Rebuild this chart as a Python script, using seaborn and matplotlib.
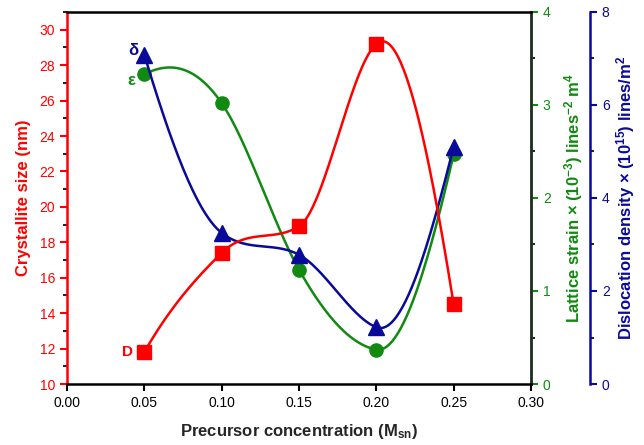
import numpy as np
import pandas as pd
import matplotlib
matplotlib.use("Agg")
import matplotlib.pyplot as plt
import seaborn as sns
from matplotlib.ticker import MultipleLocator

# ---- data ----
conc = [0.05, 0.10, 0.15, 0.20, 0.25]
crystallite = [11.8, 17.4, 18.9, 29.2, 14.5]
strain = [3.33, 3.02, 1.23, 0.37, 2.47]
dislocation = [7.08, 3.25, 2.78, 1.22, 5.1]

RED = "#ff0000"
GREEN = "#118a11"
BLUE = "#0a0a9a"

sns.set_style("ticks")
plt.rcParams["font.family"] = ["Liberation Sans", "DejaVu Sans"]
plt.rcParams["mathtext.default"] = "regular"


def akima(x, y, n=200):
    x = np.asarray(x, float)
    y = np.asarray(y, float)
    k = len(x)
    h = np.diff(x)
    m = np.diff(y) / h
    mm = np.empty(k + 3)
    mm[2:k + 1] = m
    mm[1] = 2 * mm[2] - mm[3]
    mm[0] = 2 * mm[1] - mm[2]
    mm[k + 1] = 2 * mm[k] - mm[k - 1]
    mm[k + 2] = 2 * mm[k + 1] - mm[k]
    t = np.empty(k)
    for i in range(k):
        m0, m1, m2, m3 = mm[i], mm[i + 1], mm[i + 2], mm[i + 3]
        w1 = abs(m3 - m2)
        w2 = abs(m1 - m0)
        if w1 + w2 == 0:
            t[i] = 0.5 * (m1 + m2)
        else:
            t[i] = (w1 * m1 + w2 * m2) / (w1 + w2)
    xs = np.linspace(x[0], x[-1], n)
    ys = np.empty_like(xs)
    for j, xv in enumerate(xs):
        i = min(np.searchsorted(x, xv, side="right") - 1, k - 2)
        s = (xv - x[i]) / h[i]
        h00 = 2 * s ** 3 - 3 * s ** 2 + 1
        h10 = s ** 3 - 2 * s ** 2 + s
        h01 = -2 * s ** 3 + 3 * s ** 2
        h11 = s ** 3 - s ** 2
        ys[j] = h00 * y[i] + h10 * h[i] * t[i] + h01 * y[i + 1] + h11 * h[i] * t[i + 1]
    return xs, ys


fig = plt.figure(figsize=(6.44, 4.45), dpi=100)
ax = fig.add_axes([67 / 644, 61 / 445, 464 / 644, 372 / 445])
ax2 = ax.twinx()
ax3 = ax.twinx()
ax3.spines["right"].set_position(("axes", (590 - 67) / 464))

series = [
    (ax2, strain, GREEN, "o", 9.5),
    (ax3, dislocation, BLUE, "^", 11),
    (ax, crystallite, RED, "s", 9.5),
]
for a, vals, col, mk, ms in series:
    xs, ys = akima(conc, vals)
    sns.lineplot(x=xs, y=ys, ax=a, color=col, lw=1.8, sort=False)
    df = pd.DataFrame({"x": conc, "y": vals})
    a.plot(df["x"], df["y"], ls="none", marker=mk, ms=ms, color=col, zorder=5)

ax.set_xlim(0, 0.30)
ax.set_ylim(10, 31)
ax2.set_ylim(0, 4.0)
ax3.set_ylim(0, 8.0)
ax.set_zorder(3)
ax.patch.set_visible(False)

ax.set_xticks(np.arange(0, 0.31, 0.05))
ax.set_xticklabels([f"{v:.2f}" for v in np.arange(0, 0.31, 0.05)])
ax.set_yticks(range(10, 31, 2))
ax.yaxis.set_minor_locator(MultipleLocator(1))
ax2.set_yticks([0, 1, 2, 3, 4])
ax2.yaxis.set_minor_locator(MultipleLocator(0.5))
ax3.set_yticks([0, 2, 4, 6, 8])
ax3.yaxis.set_minor_locator(MultipleLocator(1))

for a in (ax, ax2, ax3):
    a.tick_params(which="both", direction="out", labelsize=10, width=1.5)
    a.tick_params(which="major", length=5)
    a.tick_params(which="minor", length=3)
    for s in a.spines.values():
        s.set_linewidth(1.8)

ax.tick_params(axis="y", colors=RED)
ax.spines["left"].set_color(RED)
ax.spines["top"].set_color("black")
ax.spines["bottom"].set_color("black")
ax.tick_params(axis="x", colors="black")

ax2.spines["right"].set_color(GREEN)
ax2.tick_params(axis="y", colors=GREEN)
ax2.spines["left"].set_visible(False)
ax2.spines["top"].set_visible(False)
ax2.spines["bottom"].set_visible(False)

ax3.spines["right"].set_color(BLUE)
ax3.tick_params(axis="y", colors=BLUE)
for s in ("left", "top", "bottom"):
    ax3.spines[s].set_visible(False)
ax3.spines["right"].set_visible(True)

ax.set_xlabel("Precursor concentration (M$_{sn}$)", fontsize=12, fontweight="bold", labelpad=9)
ax.set_ylabel("Crystallite size (nm)", fontsize=12, fontweight="bold", color=RED, labelpad=6)
ax2.set_ylabel("Lattice strain × (10$^{-3}$) lines$^{-2}$ m$^{4}$", fontsize=12,
               fontweight="bold", color=GREEN, labelpad=8)
ax3.set_ylabel("Dislocation density × (10$^{15}$) lines/m$^{2}$", fontsize=12,
               fontweight="bold", color=BLUE, labelpad=3)

ax.text(0.0388, 11.8, "D", color=RED, fontsize=11, fontweight="bold", ha="center", va="center")
ax2.text(0.0414, 3.26, "ε", color=GREEN, fontsize=12, fontweight="bold", ha="center", va="center")
ax3.text(0.0427, 7.18, "δ", color=BLUE, fontsize=12, fontweight="bold", ha="center", va="center")

fig.savefig("out.png", dpi=100)
